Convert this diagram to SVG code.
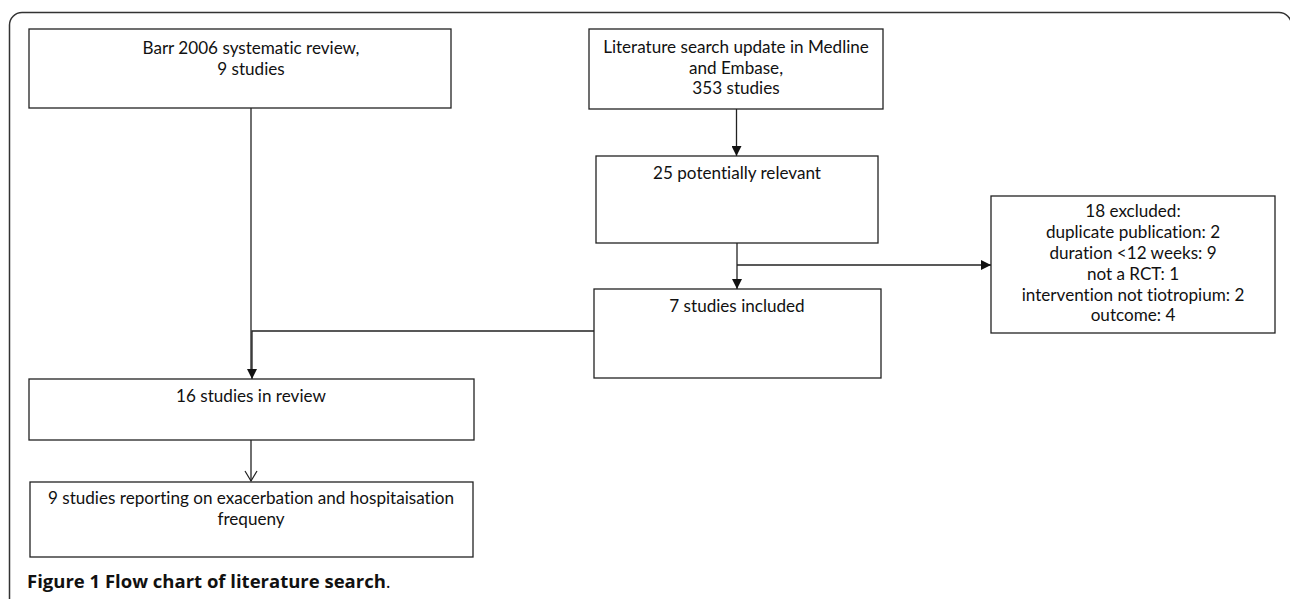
<svg xmlns="http://www.w3.org/2000/svg" width="1290" height="599" viewBox="0 0 1290 599">
<style>
.box{fill:#fff;stroke:#222;stroke-width:1.3}
.t{font-family:Lato,"Open Sans","Liberation Sans",sans-serif;font-size:17.1px;fill:#111;text-anchor:middle;font-variant-ligatures:none}
.ln{fill:none;stroke:#222;stroke-width:1.3}
.frame{fill:none;stroke:#333;stroke-width:1.5}
.cap{font-family:"Open Sans","Liberation Sans",sans-serif;font-size:18.5px;fill:#111}
</style>
<defs>
<marker id="fa" viewBox="0 0 10 10" refX="10" refY="5" markerWidth="10" markerHeight="10" markerUnits="userSpaceOnUse" orient="auto">
<path d="M0,0 L10,5 L0,10 z" fill="#111"/>
</marker>
<marker id="oa" viewBox="0 0 12 14" refX="11" refY="7" markerWidth="12" markerHeight="14" markerUnits="userSpaceOnUse" orient="auto">
<path d="M1,1 L11,7 L1,13" fill="none" stroke="#222" stroke-width="1.2"/>
</marker>
</defs>
<path class="frame" d="M9.5,599 L9.5,25 A12.5,12.5 0 0 1 22,12.5 L1279,12.5 A12.5,12.5 0 0 1 1291.5,25 L1291.5,599"/>
<g id="connectors">
<line class="ln" x1="251" y1="108" x2="251" y2="372"/>
<polyline class="ln" points="594,331 252,331 252,379" marker-end="url(#fa)"/>
<line class="ln" x1="736.5" y1="109" x2="736.5" y2="156" marker-end="url(#fa)"/>
<line class="ln" x1="737" y1="243" x2="737" y2="289" marker-end="url(#fa)"/>
<line class="ln" x1="737" y1="265" x2="991" y2="265" marker-end="url(#fa)"/>
<line class="ln" x1="251" y1="440" x2="251" y2="481" marker-end="url(#oa)"/>
</g>
<g id="barr">
<rect class="box" x="29" y="29" width="422" height="79"/>
<text class="t" x="251" y="54">Barr 2006 systematic review,</text>
<text class="t" x="251" y="74.5">9 studies</text>
</g>
<g id="literature">
<rect class="box" x="589" y="29" width="294" height="80"/>
<text class="t" x="736" y="53">Literature search update in Medline</text>
<text class="t" x="736" y="73.5">and Embase,</text>
<text class="t" x="736" y="94">353 studies</text>
</g>
<g id="relevant">
<rect class="box" x="596" y="156" width="282" height="87"/>
<text class="t" x="737" y="179">25 potentially relevant</text>
</g>
<g id="excluded">
<rect class="box" x="991" y="196" width="284" height="137"/>
<text class="t" x="1133" y="217">18 excluded:</text>
<text class="t" x="1133" y="238">duplicate publication: 2</text>
<text class="t" x="1133" y="259">duration &lt;12 weeks: 9</text>
<text class="t" x="1133" y="280">not a RCT: 1</text>
<text class="t" x="1133" y="300.5">intervention not tiotropium: 2</text>
<text class="t" x="1133" y="321">outcome: 4</text>
</g>
<g id="included">
<rect class="box" x="594" y="289" width="287" height="89"/>
<text class="t" x="737" y="312">7 studies included</text>
</g>
<g id="review">
<rect class="box" x="29" y="379" width="445" height="61"/>
<text class="t" x="251" y="402">16 studies in review</text>
</g>
<g id="reporting">
<rect class="box" x="30" y="482" width="443" height="75"/>
<text class="t" x="251" y="504">9 studies reporting on exacerbation and hospitaisation</text>
<text class="t" x="251" y="525">frequeny</text>
</g>
<text class="cap" x="27" y="588"><tspan font-weight="bold">Figure 1 Flow chart of literature search</tspan>.</text>
</svg>
